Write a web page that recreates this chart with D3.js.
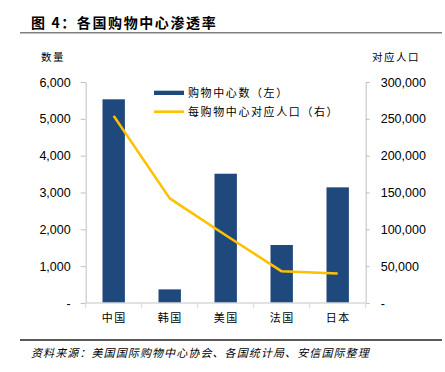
<!DOCTYPE html>
<html><head><meta charset="utf-8">
<script src="https://cdn.jsdelivr.net/npm/d3@7"></script>
<style>
html,body{margin:0;padding:0;background:#fff;}
svg{display:block;}
</style></head>
<body>
<svg id="chart" width="445" height="372"></svg>
<script>
const categories = ["中国", "韩国", "美国", "法国", "日本"];
const mallCounts = [5530, 370, 3510, 1575, 3140];
const popPerMall = [254000, 142000, 92000, 43000, 40000];
const leftTicks = [0, 1000, 2000, 3000, 4000, 5000, 6000];
const rightTicks = [0, 50000, 100000, 150000, 200000, 250000, 300000];
const titleText = "图 4：各国购物中心渗透率";
const leftAxisTitle = "数量";
const rightAxisTitle = "对应人口";
const legendLabels = ["购物中心数（左）", "每购物中心对应人口（右）"];
const sourceText = "资料来源：美国国际购物中心协会、各国统计局、安信国际整理";

const CJK = "'Noto Sans CJK SC', sans-serif";
const NUM = "'Liberation Sans', Arial, sans-serif";
const BAR = "#1F497D", LINE = "#FFC000", AXIS = "#BFBFBF";

const svg = d3.select("#chart");
const L = 85.7, R = 365.7, T = 82, B = 303;

const x = d3.scaleBand().domain(categories).range([L, R]).paddingInner(0.6).paddingOuter(0.3);
const yL = d3.scaleLinear().domain([0, 6000]).range([B, T]);
const yR = d3.scaleLinear().domain([0, 300000]).range([B, T]);
const fmt = d => d === 0 ? "-" : d3.format(",")(d);

// title
svg.append("text").attr("x", 31).attr("y", 28).attr("font-family", CJK).attr("font-weight", "bold")
  .attr("font-size", 14).attr("letter-spacing", 1.6).attr("fill", "#000").text(titleText);
svg.append("line").attr("x1", 20).attr("x2", 442).attr("y1", 32.7).attr("y2", 32.7)
  .attr("stroke", "#808080").attr("stroke-width", 1.5);

// axis titles
svg.append("text").attr("x", 53).attr("y", 60.5).attr("text-anchor", "middle").attr("font-family", CJK)
  .attr("font-size", 10.5).attr("letter-spacing", 1.5).text(leftAxisTitle);
svg.append("text").attr("x", 396).attr("y", 60.5).attr("text-anchor", "middle").attr("font-family", CJK)
  .attr("font-size", 10.5).attr("letter-spacing", 1.5).text(rightAxisTitle);

// bars
svg.append("g").selectAll("rect").data(categories).join("rect")
  .attr("x", d => x(d)).attr("width", x.bandwidth())
  .attr("y", (d, i) => yL(mallCounts[i])).attr("height", (d, i) => B - yL(mallCounts[i]))
  .attr("fill", BAR);

// left axis
const gL = svg.append("g").attr("transform", `translate(${L},0)`)
  .call(d3.axisLeft(yL).tickValues(leftTicks).tickFormat(fmt).tickSize(5).tickSizeOuter(0).tickPadding(10));
// right axis
const gR = svg.append("g").attr("transform", `translate(${R},0)`)
  .call(d3.axisRight(yR).tickValues(rightTicks).tickFormat(fmt).tickSize(4).tickSizeOuter(0).tickPadding(11));
[gL, gR].forEach(g => {
  g.select(".domain").attr("stroke", AXIS);
  g.selectAll(".tick line").attr("stroke", AXIS);
  g.selectAll(".tick text").attr("font-family", NUM).attr("font-size", 12.5).attr("fill", "#000");
});

// bottom axis with boundary ticks
const gB = svg.append("g");
gB.append("line").attr("x1", L - 1).attr("x2", R + 1).attr("y1", B).attr("y2", B).attr("stroke", "#D9D9D9").attr("stroke-width", 1.5);
gB.selectAll("line.b").data(d3.range(categories.length + 1)).join("line").attr("class", "b")
  .attr("x1", i => L + i * x.step()).attr("x2", i => L + i * x.step())
  .attr("y1", B).attr("y2", B + 5).attr("stroke", "#D9D9D9");
gB.selectAll("text").data(categories).join("text")
  .attr("x", d => x(d) + x.bandwidth() / 2 + 0.5).attr("y", 322)
  .attr("text-anchor", "middle").attr("font-family", CJK).attr("font-size", 11).attr("letter-spacing", 1.5)
  .text(d => d);

// line
const line = d3.line().x((d, i) => x(categories[i]) + x.bandwidth() / 2).y(d => yR(d));
svg.append("path").datum(popPerMall).attr("d", line).attr("fill", "none")
  .attr("stroke", LINE).attr("stroke-width", 2.6).attr("stroke-linejoin", "round");

// legend
const lg = svg.append("g");
lg.append("rect").attr("x", 154).attr("y", 90.7).attr("width", 30).attr("height", 4.3).attr("fill", BAR);
lg.append("line").attr("x1", 154).attr("x2", 184).attr("y1", 111.7).attr("y2", 111.7).attr("stroke", LINE).attr("stroke-width", 2.6);
lg.selectAll("text").data(legendLabels).join("text")
  .attr("x", 188).attr("y", (d, i) => 96.5 + i * 19).attr("font-family", CJK).attr("font-size", 11)
  .attr("letter-spacing", 1.6).text(d => d);

// source
svg.append("line").attr("x1", 20).attr("x2", 442).attr("y1", 340).attr("y2", 340).attr("stroke", "#222").attr("stroke-width", 1.3);
svg.append("text").attr("x", 31).attr("y", 357).attr("font-family", CJK).attr("font-size", 11)
  .attr("font-style", "italic").attr("letter-spacing", 1.1).text(sourceText);
</script>
</body></html>
